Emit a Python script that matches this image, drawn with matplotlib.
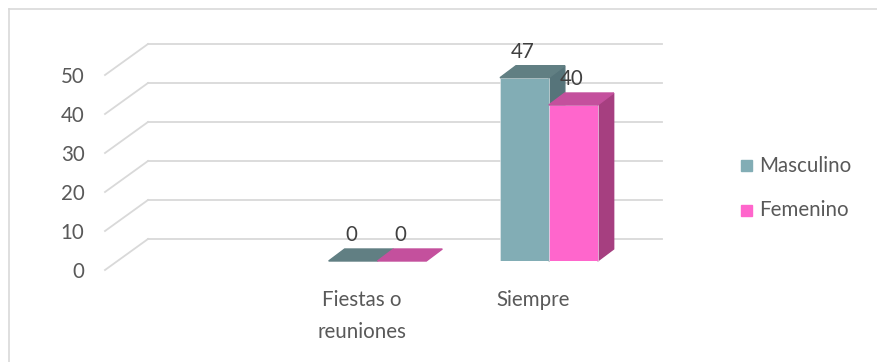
import numpy as np
import matplotlib.pyplot as plt
from matplotlib.patches import Polygon
from matplotlib.lines import Line2D

plt.rcParams['font.family'] = ['Lato', 'DejaVu Sans']

# datos
categorias = ['', 'Fiestas o\nreuniones', 'Siempre']
masculino = [np.nan, 0, 47]
femenino = [np.nan, 0, 40]
series = ['Masculino', 'Femenino']
yticks = [0, 10, 20, 30, 40, 50]

frente = ['#82adb5', '#ff66cc']
arriba = ['#617f83', '#c4509d']
lado = ['#56747a', '#a63f80']

W, H = 878, 362
fig = plt.figure(figsize=(W / 100, H / 100), dpi=100)
# plano frontal de las barras (en pixeles de la figura)
x0, x1, y0, ytop = 117.5, 631.5, 261, 66
ax = fig.add_axes([x0 / W, (H - y0) / H, (x1 - x0) / W, (y0 - ytop) / H])
ax.set_xlim(-0.5, 2.5)
ax.set_ylim(0, 50)
ax.axis('off')

# pixeles -> unidades de datos
px_x = (x1 - x0) / 3.0
px_y = (y0 - ytop) / 50.0

def d(dxp, dyp):
    return dxp / px_x, dyp / px_y

bdx, bdy = d(30.5, 22)     # pared del fondo
fdx, fdy = d(-12.5, -9)    # borde frontal del eje
pdx, pdy = d(16, 12)       # profundidad de la barra
desp, _ = d(3, 0)

fs = 14.8
gris = '#d9d9d9'
for v in yticks:
    ax.add_line(Line2D([-0.5 + bdx, 2.5 + bdx], [v + bdy, v + bdy], color=gris,
                       lw=1.3, clip_on=False, zorder=1))
    ax.add_line(Line2D([-0.5 + fdx, -0.5 + bdx], [v + fdy, v + bdy], color=gris,
                       lw=1.3, clip_on=False, zorder=1))
    ax.text(-0.5 + fdx - 0.12, v + fdy - 0.6, str(v), ha='right', va='center',
            fontsize=fs, color='#595959')

ancho = 0.285
x = np.arange(len(categorias))
for i, vals in enumerate([masculino, femenino]):
    for j, v in enumerate(vals):
        if np.isnan(v):
            continue
        xl = x[j] + desp - ancho + i * ancho
        xr = xl + ancho
        z = 3 + i
        if v > 0:
            ax.bar(xl, v, width=ancho, align='edge', color=frente[i], zorder=z,
                   edgecolor='#e8eef0', linewidth=0.4)
            ax.add_patch(Polygon([[xr, 0], [xr + pdx, pdy], [xr + pdx, v + pdy], [xr, v]],
                                 closed=True, color=lado[i], zorder=z - 0.5, clip_on=False))
        ax.add_patch(Polygon([[xl, v], [xr, v], [xr + pdx, v + pdy], [xl + pdx, v + pdy]],
                             closed=True, color=arriba[i], zorder=z, clip_on=False))
        ax.text(xl + ancho / 2 - 0.01, v + pdy + 1.0, str(v), ha='center',
                va='bottom', fontsize=fs, color='#404040', zorder=10, clip_on=False)

for j, c in enumerate(categorias):
    ax.text(x[j] + fdx, fdy - 5.2, c, ha='center', va='top', fontsize=fs,
            color='#595959', linespacing=1.75)

# leyenda
for i, s in enumerate(series):
    yc = H - (165.5 + i * 45)
    fig.patches.append(plt.Rectangle((741 / W, (yc - 5.5) / H), 11 / W, 11 / H,
                                     color=frente[i], transform=fig.transFigure))
    fig.text(759 / W, yc / H, s, ha='left', va='center', fontsize=fs, color='#595959')

# marco
fig.add_artist(Line2D([8.5 / W, 1], [1 - 9 / H, 1 - 9 / H], color=gris, lw=1.2))
fig.add_artist(Line2D([8.5 / W, 8.5 / W], [0, 1 - 9 / H], color=gris, lw=1.2))

fig.savefig('out.png', dpi=100, facecolor='white')
